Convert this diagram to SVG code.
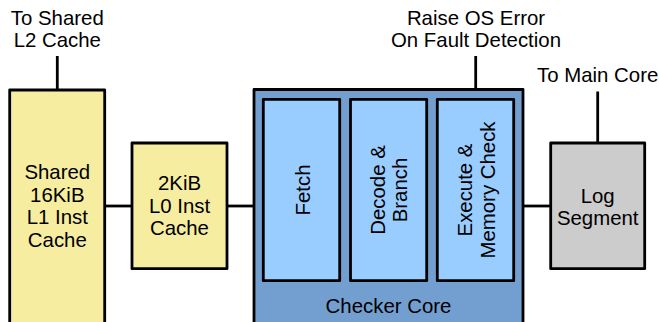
<svg xmlns="http://www.w3.org/2000/svg" width="659" height="322" viewBox="0 0 659 322">
  <style>
    .box { stroke: #000; stroke-width: 2.8; stroke-linejoin: round; }
    .cache { fill: #F6EDA0; }
    .core { fill: #729FCF; }
    .stage { fill: #99CCFF; }
    .log { fill: #CCCCCC; }
    .wire { stroke: #000; stroke-width: 2.8; fill: none; }
    text { font-family: "Liberation Sans", Arial, sans-serif; font-size: 20.4px; fill: #000; text-anchor: middle; }
  </style>

  <!-- connectors -->
  <g id="connectors">
    <line class="wire" x1="57.3" y1="56" x2="57.3" y2="90"/>
    <line class="wire" x1="475.7" y1="56" x2="475.7" y2="99.3"/>
    <line class="wire" x1="597.7" y1="91.5" x2="597.7" y2="143"/>
    <line class="wire" x1="104.7" y1="206" x2="132" y2="206"/>
    <line class="wire" x1="227" y1="206" x2="254" y2="206"/>
    <line class="wire" x1="523" y1="206" x2="550.7" y2="206"/>
  </g>

  <!-- outside labels -->
  <g id="label-l2">
    <text x="57.3" y="25">To Shared</text>
    <text x="57.3" y="47">L2 Cache</text>
  </g>
  <g id="label-os">
    <text x="476" y="25">Raise OS Error</text>
    <text x="476" y="47">On Fault Detection</text>
  </g>
  <g id="label-main">
    <text x="597.7" y="81.7">To Main Core</text>
  </g>

  <!-- shared L1 instruction cache -->
  <g id="l1-cache">
    <rect class="box cache" x="9.7" y="90" width="95" height="250"/>
    <text x="57.3" y="179">Shared</text>
    <text x="57.3" y="201.7">16KiB</text>
    <text x="57.3" y="224.4">L1 Inst</text>
    <text x="57.3" y="247">Cache</text>
  </g>

  <!-- L0 instruction cache -->
  <g id="l0-cache">
    <rect class="box cache" x="132" y="143" width="95" height="125.7"/>
    <text x="179.5" y="190">2KiB</text>
    <text x="179.5" y="212.7">L0 Inst</text>
    <text x="179.5" y="235">Cache</text>
  </g>

  <!-- checker core with its pipeline stages -->
  <g id="checker-core">
    <rect class="box core" x="254" y="89.5" width="269" height="250"/>
    <text x="388.5" y="313.3">Checker Core</text>
  </g>
  <g id="fetch">
    <rect class="box stage" x="263.3" y="99.3" width="76.4" height="181.4"/>
    <text transform="translate(310,190) rotate(-90)">Fetch</text>
  </g>
  <g id="decode">
    <rect class="box stage" x="350.5" y="99.3" width="76.2" height="181.4"/>
    <text transform="translate(385,190) rotate(-90)">Decode &amp;</text>
    <text transform="translate(407.3,190) rotate(-90)">Branch</text>
  </g>
  <g id="execute">
    <rect class="box stage" x="437.3" y="99.3" width="76.4" height="181.4"/>
    <text transform="translate(472,190) rotate(-90)">Execute &amp;</text>
    <text transform="translate(495,190) rotate(-90)">Memory Check</text>
  </g>

  <!-- log segment -->
  <g id="log-segment">
    <rect class="box log" x="550.7" y="143" width="94" height="125.7"/>
    <text x="597.7" y="202.7">Log</text>
    <text x="597.7" y="225">Segment</text>
  </g>
</svg>
